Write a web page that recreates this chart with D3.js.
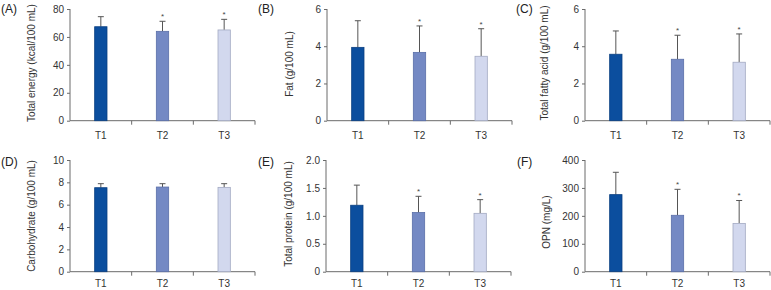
<!DOCTYPE html>
<html>
<head>
<meta charset="utf-8">
<script src="https://cdn.jsdelivr.net/npm/d3@7"></script>
<style>
  body { margin: 0; background: #fff; }
  text { font-family: "Liberation Sans", Arial, sans-serif; }
</style>
</head>
<body>
<svg width="771" height="290"></svg>
<script>
const categories = ["T1", "T2", "T3"];

const energyMean = [67.3, 64.0, 65.0];
const energySD = [7.2, 7.2, 7.6];
const fatMean = [3.94, 3.67, 3.46];
const fatSD = [1.43, 1.42, 1.48];
const fattyMean = [3.57, 3.30, 3.14];
const fattySD = [1.25, 1.29, 1.52];
const carbMean = [7.52, 7.58, 7.55];
const carbSD = [0.36, 0.30, 0.33];
const proteinMean = [1.19, 1.06, 1.045];
const proteinSD = [0.36, 0.29, 0.245];
const opnMean = [276, 202, 173];
const opnSD = [80, 93, 82];

const starred = [false, true, true];
const noStars = [false, false, false];

const fills = ["#0b4e9e", "#7489c4", "#d2d8ee"];
const strokes = ["#0a3f80", "#5b6fa9", "#a3aac2"];

const panels = [
    {label: "(A)", title: "Total energy (kcal/100 mL)", mean: energyMean, sd: energySD, max: 80, ticks: [0, 20, 40, 60, 80], fmt: d3.format("d"), stars: starred,
     x0: 70, x1: 255, y0: 9, y1: 120.7, lx: 1, ly: 13, tx: 35, ty: 63, xl: 18},
    {label: "(B)", title: "Fat (g/100 mL)", mean: fatMean, sd: fatSD, max: 6, ticks: [0, 2, 4, 6], fmt: d3.format("d"), stars: starred,
     x0: 327, x1: 512, y0: 9, y1: 120.7, lx: 258, ly: 13, tx: 293, ty: 64, xl: 18},
    {label: "(C)", title: "Total fatty acid (g/100 mL)", mean: fattyMean, sd: fattySD, max: 6, ticks: [0, 2, 4, 6], fmt: d3.format("d"), stars: starred,
     x0: 585, x1: 770, y0: 9, y1: 120.7, lx: 516, ly: 13, tx: 548, ty: 63, xl: 18},
    {label: "(D)", title: "Carbohydrate (g/100 mL)", mean: carbMean, sd: carbSD, max: 10, ticks: [0, 2, 4, 6, 8, 10], fmt: d3.format("d"), stars: noStars,
     x0: 70, x1: 255, y0: 160, y1: 271.7, lx: 1, ly: 166, tx: 35, ty: 216, xl: 15},
    {label: "(E)", title: "Total protein (g/100 mL)", mean: proteinMean, sd: proteinSD, max: 2, ticks: [0, 0.5, 1, 1.5, 2], fmt: (d => d === 0 ? "0" : d3.format(".1f")(d)), stars: starred,
     x0: 326, x1: 511, y0: 160, y1: 271.7, lx: 258, ly: 166, tx: 292, ty: 214, xl: 15},
    {label: "(F)", title: "OPN (mg/L)", mean: opnMean, sd: opnSD, max: 400, ticks: [0, 100, 200, 300, 400], fmt: d3.format("d"), stars: starred,
     x0: 585, x1: 770, y0: 160, y1: 271.7, lx: 517, ly: 166, tx: 550, ty: 222, xl: 15}
];

const svg = d3.select("svg");
const axisColor = "#6b6b6b";

panels.forEach(function(p) {
    const g = svg.append("g");

    const x = d3.scaleBand()
        .domain(categories)
        .range([p.x0, p.x1]);

    const y = d3.scaleLinear()
        .domain([0, p.max])
        .range([p.y1, p.y0]);

    const barW = x.bandwidth() * 0.2;

    // y axis
    const yAxis = g.append("g")
        .attr("transform", `translate(${p.x0},0)`)
        .call(d3.axisLeft(y).tickValues(p.ticks).tickFormat(p.fmt).tickSize(3).tickPadding(3));
    yAxis.select(".domain").attr("stroke", axisColor).attr("d", `M0,${p.y0}V${p.y1}`);
    yAxis.selectAll(".tick line").attr("stroke", axisColor);
    yAxis.selectAll(".tick text").attr("fill", "#333").style("font-size", "10px");

    // x axis: ticks at band boundaries
    g.append("line")
        .attr("x1", p.x0).attr("x2", p.x1)
        .attr("y1", p.y1).attr("y2", p.y1)
        .attr("stroke", axisColor);
    categories.forEach(function(c, i) {
        if (i > 0) {
            g.append("line")
                .attr("x1", x(c)).attr("x2", x(c))
                .attr("y1", p.y1).attr("y2", p.y1 + 4)
                .attr("stroke", axisColor);
        }
    });
    g.append("line")
        .attr("x1", p.x1).attr("x2", p.x1)
        .attr("y1", p.y1).attr("y2", p.y1 + 4)
        .attr("stroke", axisColor);

    g.selectAll("text.xlab")
        .data(categories)
        .enter().append("text")
        .attr("class", "xlab")
        .attr("x", d => x(d) + x.bandwidth() / 2)
        .attr("y", p.y1 + p.xl)
        .attr("text-anchor", "middle")
        .attr("fill", "#333")
        .style("font-size", "10px")
        .text(d => d);

    const data = categories.map((c, i) => ({c: c, i: i, m: p.mean[i], s: p.sd[i], star: p.stars[i]}));

    // error bars
    g.selectAll("line.err")
        .data(data)
        .enter().append("line")
        .attr("class", "err")
        .attr("x1", d => x(d.c) + x.bandwidth() / 2)
        .attr("x2", d => x(d.c) + x.bandwidth() / 2)
        .attr("y1", d => y(d.m))
        .attr("y2", d => y(d.m + d.s))
        .attr("stroke", "#555");
    g.selectAll("line.cap")
        .data(data)
        .enter().append("line")
        .attr("class", "cap")
        .attr("x1", d => x(d.c) + x.bandwidth() / 2 - 3)
        .attr("x2", d => x(d.c) + x.bandwidth() / 2 + 3)
        .attr("y1", d => y(d.m + d.s))
        .attr("y2", d => y(d.m + d.s))
        .attr("stroke", "#555");

    // bars
    g.selectAll("rect.bar")
        .data(data)
        .enter().append("rect")
        .attr("class", "bar")
        .attr("x", d => x(d.c) + x.bandwidth() / 2 - barW / 2)
        .attr("width", barW)
        .attr("y", d => y(d.m))
        .attr("height", d => y(0) - y(d.m))
        .attr("fill", d => fills[d.i])
        .attr("stroke", d => strokes[d.i])
        .attr("stroke-width", 0.8);

    // significance marks
    g.selectAll("text.star")
        .data(data.filter(d => d.star))
        .enter().append("text")
        .attr("class", "star")
        .attr("x", d => x(d.c) + x.bandwidth() / 2)
        .attr("y", d => y(d.m + d.s) - 2)
        .attr("text-anchor", "middle")
        .attr("fill", "#444")
        .style("font-size", "8px")
        .text("*");

    // panel label
    g.append("text")
        .attr("x", p.lx)
        .attr("y", p.ly)
        .attr("fill", "#222")
        .style("font-size", "12px")
        .text(p.label);

    // axis title
    g.append("text")
        .attr("transform", `translate(${p.tx},${p.ty}) rotate(-90)`)
        .attr("text-anchor", "middle")
        .attr("fill", "#333")
        .style("font-size", "10px")
        .text(p.title);
});
</script>
</body>
</html>
